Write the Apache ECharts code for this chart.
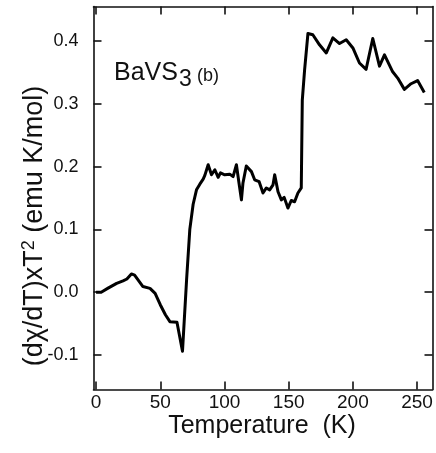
<!DOCTYPE html>
<html>
<head>
<meta charset="utf-8">
<style>
  html, body { margin: 0; padding: 0; background: #fff; }
  #chart { width: 436px; height: 453px; }
</style>
<script src="https://cdn.jsdelivr.net/npm/echarts@6/dist/echarts.min.js"></script>
</head>
<body>
<div id="chart"></div>
<script>
// Temperature (K)
const temperature = [
  0, 4, 9, 16, 21, 24, 27.5, 30, 36.5, 42, 46, 50, 54, 57.5, 63, 67.3,
  70.5, 73, 75.6, 78.2, 80.8, 83.4, 84.7, 87.3, 89.9, 92.5, 95.1, 96.9,
  100.2, 104.1, 106.7, 109.3, 111.3, 113.2, 114.4, 117, 121, 123.5, 127,
  130, 132.6, 135.2, 137.8, 139.1, 141.7, 144.3, 146.5, 149.4, 152, 154.6,
  157.2, 159.8, 160.6, 162.4, 165, 168.8, 174, 179.3, 184.4, 189.6, 194.8,
  200, 205.1, 210.3, 215.5, 220.7, 224.6, 231, 234.9, 240.1, 245.3, 250.4, 255.6
];
// (dχ/dT)·T² (emu K/mol)
const dchiT2 = [
  0.000, 0.000, 0.006, 0.014, 0.018, 0.021, 0.029, 0.027, 0.009, 0.006, -0.002, -0.020, -0.036, -0.047, -0.048, -0.094,
  0.020, 0.100, 0.140, 0.163, 0.172, 0.180, 0.186, 0.203, 0.187, 0.195, 0.183, 0.190,
  0.187, 0.188, 0.184, 0.203, 0.174, 0.147, 0.174, 0.201, 0.192, 0.179, 0.176,
  0.158, 0.166, 0.163, 0.171, 0.187, 0.160, 0.147, 0.151, 0.134, 0.146, 0.144,
  0.158, 0.166, 0.306, 0.354, 0.412, 0.410, 0.394, 0.381, 0.405, 0.396, 0.402,
  0.389, 0.365, 0.355, 0.404, 0.360, 0.378, 0.351, 0.341, 0.323, 0.332, 0.337, 0.318
];
const xTicks = [0, 50, 100, 150, 200, 250];
const yTicks = [-0.1, 0.0, 0.1, 0.2, 0.3, 0.4];

const points = temperature.map((t, i) => [t, dchiT2[i]]);

const FONT = '"Liberation Sans", Arial, Helvetica, sans-serif';
const frame = { show: true, onZero: false, lineStyle: { color: '#111', width: 1.6 } };
const tick = (vals) => ({ show: true, inside: true, length: 8, customValues: vals, lineStyle: { color: '#111', width: 1.6 } });

const chart = echarts.init(document.getElementById('chart'), null, { renderer: 'canvas' });
chart.setOption({
  animation: false,
  backgroundColor: '#fff',
  grid: { left: 93.5, right: 3.5, top: 6.5, bottom: 63.5, containLabel: false },
  xAxis: [
    {
      type: 'value', min: -2, max: 262, position: 'bottom',
      axisLine: frame, axisTick: tick(xTicks), splitLine: { show: false },
      axisLabel: { customValues: xTicks, margin: 4, color: '#111', fontSize: 19, fontFamily: FONT }
    },
    {
      type: 'value', min: -2, max: 262, position: 'top',
      axisLine: frame, axisTick: tick(xTicks), splitLine: { show: false },
      axisLabel: { show: false }
    }
  ],
  yAxis: [
    {
      type: 'value', min: -0.155, max: 0.455, position: 'left',
      axisLine: frame, axisTick: tick(yTicks), splitLine: { show: false },
      axisLabel: {
        customValues: yTicks, margin: 15, color: '#111', fontSize: 18, fontFamily: FONT,
        formatter: (v) => v.toFixed(1)
      }
    },
    {
      type: 'value', min: -0.155, max: 0.455, position: 'right',
      axisLine: frame, axisTick: tick(yTicks), splitLine: { show: false },
      axisLabel: { show: false }
    }
  ],
  series: [{
    type: 'line',
    data: points,
    showSymbol: false,
    lineStyle: { color: '#000', width: 3, join: 'round' },
    xAxisIndex: 0, yAxisIndex: 0
  }],
  graphic: [
    {
      type: 'text', x: 262, y: 426,
      style: { text: 'Temperature  (K)', font: '25px ' + FONT, fill: '#111', align: 'center', verticalAlign: 'middle' }
    },
    {
      type: 'text', x: 35, y: 226, rotation: Math.PI / 2,
      style: {
        text: '(dχ/dT)xT{sup|2} (emu K/mol)',
        fontSize: 27, fontFamily: FONT, fill: '#111', align: 'center', verticalAlign: 'middle',
        rich: { sup: { fontSize: 18, fontFamily: FONT, fill: '#111', verticalAlign: 'top', padding: [0, 0, 12, 0] } }
      }
    },
    {
      type: 'text', x: 114, y: 73,
      style: { text: 'BaVS', font: '25px ' + FONT, fill: '#111', align: 'left', verticalAlign: 'middle' }
    },
    {
      type: 'text', x: 179, y: 80,
      style: { text: '3', font: '23px ' + FONT, fill: '#111', align: 'left', verticalAlign: 'middle' }
    },
    {
      type: 'text', x: 197, y: 76,
      style: { text: '(b)', font: '18px ' + FONT, fill: '#111', align: 'left', verticalAlign: 'middle' }
    }
  ]
});
</script>
</body>
</html>
